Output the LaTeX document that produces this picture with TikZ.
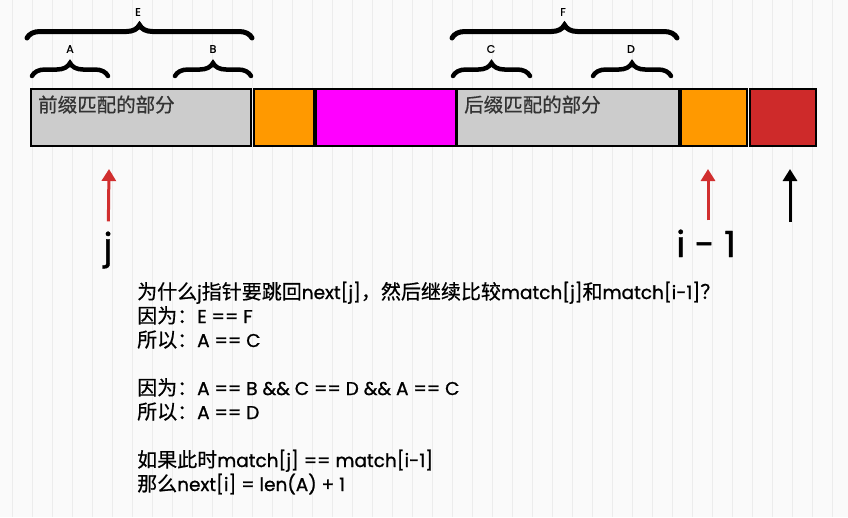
\documentclass[tikz,border=0pt]{standalone}
\usepackage{fontspec}
\setmainfont[FakeBold=0.6]{Noto Sans CJK SC}
\newfontfamily\latin[FakeBold=1]{Poppins}
\usetikzlibrary{arrows.meta,decorations.pathreplacing}
\definecolor{boxgray}{HTML}{CCCCCC}
\definecolor{boxorange}{HTML}{FF9900}
\definecolor{boxmagenta}{HTML}{FF00FF}
\definecolor{boxred}{HTML}{CE2A2A}
\definecolor{arrowred}{HTML}{D12F2F}
\definecolor{gridgray}{HTML}{ECECEC}
\definecolor{paper}{HTML}{FAFAFA}
\definecolor{inktext}{HTML}{333333}
\newcommand{\lt}[1]{{\latin\fontsize{18.5}{24}\selectfont #1}}

\begin{document}
\begin{tikzpicture}[x=1pt,y=-1pt,inner sep=0pt,
  cell/.style={rectangle,draw=black,line width=2pt,anchor=north west,minimum height=57pt},
  bigbrace/.style={decorate,decoration={brace,amplitude=13pt},line width=5pt,line cap=round},
  smallbrace/.style={decorate,decoration={brace,amplitude=13pt},line width=4.5pt,line cap=round},
  bracelabel/.style={font=\latin\fontsize{11}{13}\selectfont},
  note/.style={anchor=base west,font=\fontsize{20}{24}\selectfont},
  pointer/.style={line width=3pt,-{Triangle[width=14pt,length=12pt]}}]
\useasboundingbox (0,0) rectangle (848,517);
\fill[paper] (0,0) rectangle (848,517);
\draw[gridgray,line width=1pt,step=20,shift={(12,2)}] (-12,-2) grid (836,515);
%Cells
\node at (30,88) [cell,fill=boxgray,minimum width=220pt] (Box1) {};
\node at (253,88) [cell,fill=boxorange,minimum width=60pt] (Box2) {};
\node at (315,88) [cell,fill=boxmagenta,minimum width=140pt] (Box3) {};
\node at (456,88) [cell,fill=boxgray,minimum width=222pt] (Box4) {};
\node at (680,88) [cell,fill=boxorange,minimum width=66pt] (Box5) {};
\node at (749,88) [cell,fill=boxred,minimum width=66pt] (Box6) {};
%Cell Labels
\node [anchor=base west,inktext,font=\fontsize{19.5}{22}\selectfont] at (38,112) (PreText) {前缀匹配的部分};
\node [anchor=base west,inktext,font=\fontsize{19.5}{22}\selectfont] at (464,112) (SufText) {后缀匹配的部分};
%Braces
\draw [bigbrace] (27,38) -- (252,38);
\draw [bigbrace] (452,38) -- (677,38);
\draw [smallbrace] (32,76) -- (108,76);
\draw [smallbrace] (175,76) -- (251,76);
\draw [smallbrace] (453,76) -- (530,76);
\draw [smallbrace] (593,76) -- (671,76);
%Brace Labels
\node [bracelabel] at (138,12) (LabE) {E};
\node [bracelabel] at (563,12) (LabF) {F};
\node [bracelabel] at (70,49) (LabA) {A};
\node [bracelabel] at (213,49) (LabB) {B};
\node [bracelabel] at (491,49) (LabC) {C};
\node [bracelabel] at (631,49) (LabD) {D};
%Pointers
\node [anchor=base,font=\latin\fontsize{36}{40}\selectfont] at (108,259) (LabJ) {j};
\node [anchor=base,font=\latin\fontsize{36}{40}\selectfont] at (706,257) (LabI) {i - 1};
\coordinate (TipJ) at (109,169);
\coordinate (TipI) at (708,169);
\coordinate (TailLast) at (790,222);
\coordinate (TipLast) at (790,169);
\draw [pointer,arrowred,shorten <=10pt] (LabJ) -- (TipJ);
\draw [pointer,arrowred,shorten <=9pt] (LabI.north -| TipI) -- (TipI);
\draw [pointer,black] (TailLast) -- (TipLast);
%Notes
\node [note] at (137,299) (Note1) {为什么\lt{j}指针要跳回\lt{next[j]}，然后继续比较\lt{match[j]}和\lt{match[i-1]}？};
\node [note] at (137,323) (Note2) {因为：\lt{E == F}};
\node [note] at (137,347) (Note3) {所以：\lt{A == C}};
\node [note] at (137,395) (Note4) {因为：\lt{A == B \&\& C == D \&\& A == C}};
\node [note] at (137,419) (Note5) {所以：\lt{A == D}};
\node [note] at (137,467) (Note6) {如果此时\lt{match[j] == match[i-1]}};
\node [note] at (137,491) (Note7) {那么\lt{next[i] = len(A) + 1}};

\end{tikzpicture}
\end{document}
